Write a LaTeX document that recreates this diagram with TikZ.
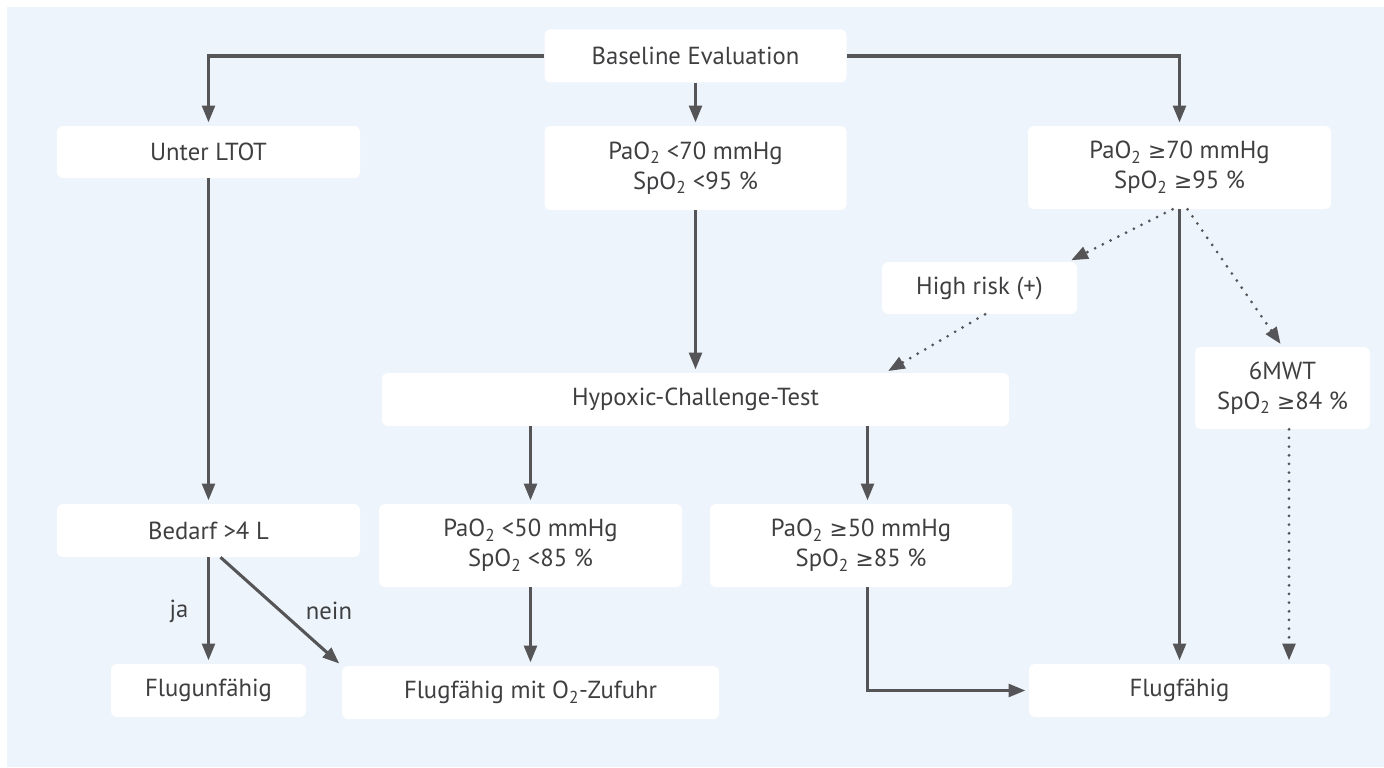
\documentclass[tikz,border=0pt]{standalone}
\usepackage{fontspec}
\setmainfont{PT Sans}
\newfontfamily\symf[Scale=0.88]{DejaVu Sans}
\newcommand\gsym{{\symf ≥}}
\usetikzlibrary{arrows.meta,calc}
\definecolor{bgblue}{HTML}{EDF4FB}
\definecolor{linegray}{HTML}{555557}
\definecolor{txtgray}{HTML}{3F3F41}
\tikzset{
  box/.style 2 args={fill=white, rounded corners=4pt, inner sep=0pt, align=center,
    minimum width=#1*0.75pt, minimum height=#2*0.75pt, text=txtgray,
    font=\fontsize{18.5}{22.5}\selectfont},
  conn/.style={draw=linegray, line width=2.3pt, -{Triangle[length=12.5pt,width=9.5pt]}, shorten >=2.5pt},
  dotconn/.style={conn, line cap=round, dash pattern=on 0pt off 6.5pt},
  lbl/.style={text=txtgray, font=\fontsize{18.5}{22.5}\selectfont, inner sep=0pt}
}
\begin{document}
\begin{tikzpicture}[x=0.75pt,y=-0.75pt]
\useasboundingbox (0,0) rectangle (1384,767);
\fill[bgblue] (7,7) rectangle (1384,767);

\node[box={302}{53}] (base) at (695.5,56) {Baseline Evaluation};
\node[box={303}{52}] (ltot) at (208.5,152) {Unter LTOT};
\node[box={302}{84}] (lo70) at (695.5,168) {PaO\textsubscript{2} <70 mmHg\\SpO\textsubscript{2} <95 \%};
\node[box={303}{83}] (hi70) at (1179.5,167.5) {PaO\textsubscript{2} \gsym70 mmHg\\SpO\textsubscript{2} \gsym95 \%};
\node[box={195}{52}] (risk) at (979.5,288) {High risk (+)};
\node[box={627}{53}] (hct) at (695.5,399.5) {Hypoxic-Challenge-Test};
\node[box={175}{82}] (mwt) at (1282.5,388) {6MWT\\SpO\textsubscript{2} \gsym84 \%};
\node[box={303}{53}] (bed) at (208.5,530.5) {Bedarf >4 L};
\node[box={303}{83}] (lo50) at (530.5,545.5) {PaO\textsubscript{2} <50 mmHg\\SpO\textsubscript{2} <85 \%};
\node[box={302}{83}] (hi50) at (861,545.5) {PaO\textsubscript{2} \gsym50 mmHg\\SpO\textsubscript{2} \gsym85 \%};
\node[box={195}{53}] (unfit) at (208.5,690.5) {Flugunfähig};
\node[box={377}{53}] (fito2) at (530.5,692.5) {Flugfähig mit O\textsubscript{2}-Zufuhr};
\node[box={301}{53}] (fit) at (1179.5,690.5) {Flugfähig};

\node[lbl] (ja) at (179,611) {ja};
\node[lbl] (nein) at (329,611) {nein};

% solid connectors
\draw[conn] (base.west) -| (ltot.north);
\draw[conn] (base.east) -| (hi70.north);
\draw[conn] (base.south) -- (lo70.north);
\draw[conn] (ltot.south) -- (bed.north);
\draw[conn] (lo70.south) -- (hct.north -| lo70.south);
\draw[conn] (hi70.south) -- (fit.north);
\draw[conn] (hct.south -| lo50.north) -- (lo50.north);
\coordinate (h50t) at ($(hi50.north)+(6.5,0)$);
\coordinate (h50b) at ($(hi50.south)+(6.5,0)$);
\draw[conn] (hct.south -| h50t) -- (h50t);
\draw[conn] (lo50.south) -- (fito2.north -| lo50.south);
\draw[conn] (h50b) |- (fit.west);
\draw[conn] (bed.south) -- (unfit.north);
\draw[conn] ($(bed.south)+(12,0)$) -- (fito2.north west);

% dotted connectors
\draw[dotconn] ($(hi70.south)+(-7,0)$) -- ($(risk.north east)+(-9,0)$);
\draw[dotconn] ($(hi70.south)+(8,0)$) -- (mwt.north);
\draw[dotconn] ($(risk.south)+(5.5,0)$) -- ($(hct.north east)+(-124,0)$);
\coordinate (m6) at ($(mwt.south)+(6.5,0)$);
\draw[dotconn] (m6) -- (m6 |- fit.north);
\end{tikzpicture}
\end{document}
